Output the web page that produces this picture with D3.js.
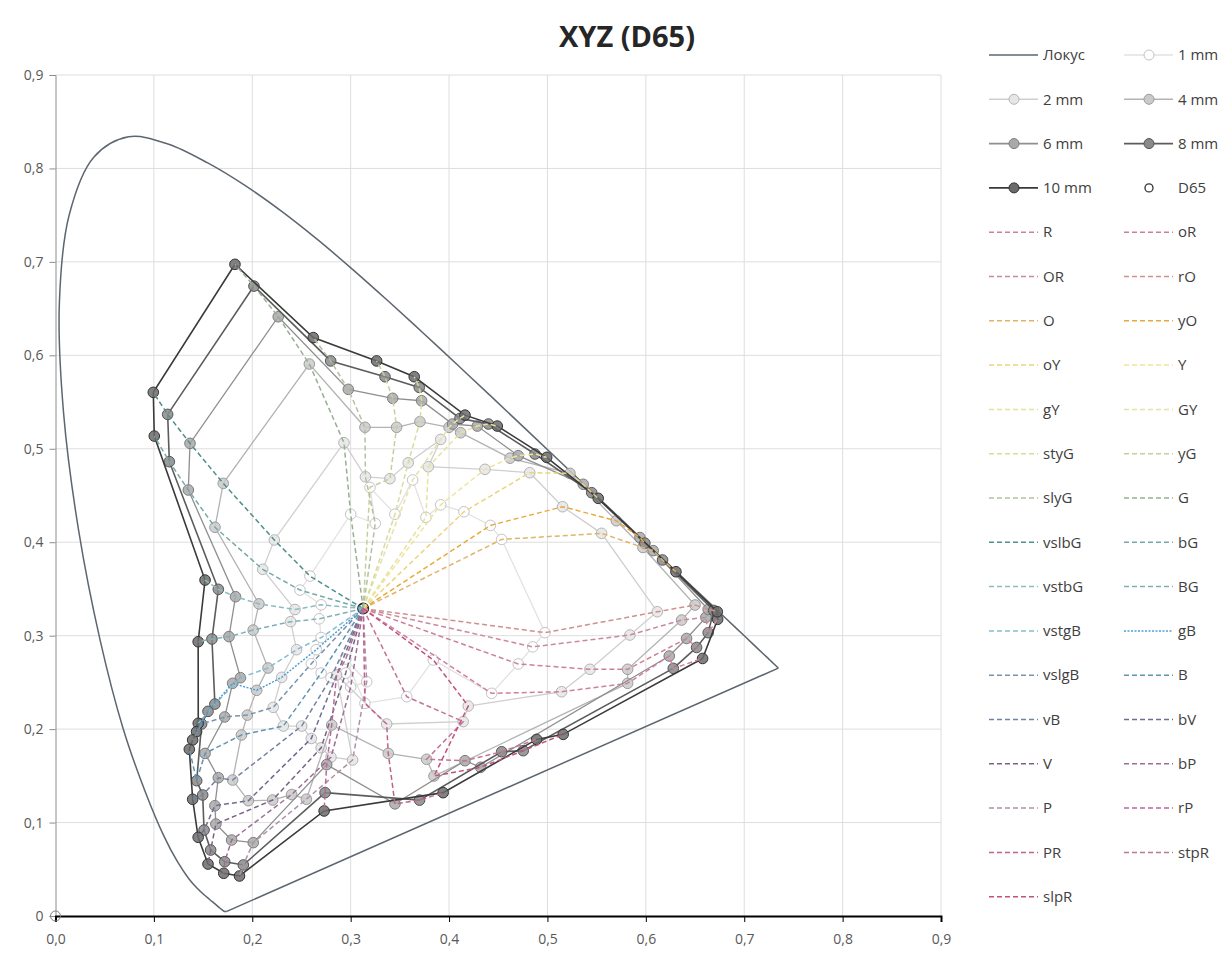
<!DOCTYPE html>
<html>
<head>
<meta charset="utf-8">
<script src="https://cdn.jsdelivr.net/npm/d3@7"></script>
<style>
body { margin: 0; background: #fff; }
text { font-family: "Open Sans", sans-serif; }
</style>
</head>
<body>
<svg id="chart" width="1225" height="953"></svg>
<script>
// spectral locus (CIE 1931, 380..700 nm, 5 nm step)
var locusX = [0.1741,0.1740,0.1738,0.1736,0.1733,0.1730,0.1726,0.1721,0.1714,0.1703,0.1689,0.1669,0.1644,0.1611,0.1566,0.1510,0.1440,0.1355,0.1241,0.1096,0.0913,0.0687,0.0454,0.0235,0.0082,0.0039,0.0139,0.0389,0.0743,0.1142,0.1547,0.1929,0.2296,0.2658,0.3016,0.3373,0.3731,0.4087,0.4441,0.4788,0.5125,0.5448,0.5752,0.6029,0.6270,0.6482,0.6658,0.6801,0.6915,0.7006,0.7079,0.7140,0.7190,0.7230,0.7260,0.7283,0.7300,0.7311,0.7320,0.7327,0.7334,0.7340,0.7344,0.7346,0.7347];
var locusY = [0.0050,0.0050,0.0049,0.0049,0.0048,0.0048,0.0048,0.0048,0.0051,0.0058,0.0069,0.0086,0.0109,0.0138,0.0177,0.0227,0.0297,0.0399,0.0578,0.0868,0.1327,0.2007,0.2950,0.4127,0.5384,0.6548,0.7502,0.8120,0.8338,0.8262,0.8059,0.7816,0.7543,0.7243,0.6923,0.6589,0.6245,0.5896,0.5547,0.5202,0.4866,0.4544,0.4242,0.3965,0.3725,0.3514,0.3340,0.3197,0.3083,0.2993,0.2920,0.2859,0.2809,0.2770,0.2740,0.2717,0.2700,0.2689,0.2680,0.2673,0.2666,0.2660,0.2656,0.2654,0.2653];

var whitePoints = [[0.3127, 0.3290], [0, 0]];

var hueNames = ["R","oR","OR","rO","O","yO","oY","Y","gY","GY","styG","yG","slyG","G",
  "vslbG","bG","vstbG","BG","vstgB","gB","vslgB","B","vB","bV","V","bP","P","rP","PR","stpR","slpR"];

var ring1mm = [[0.4433,0.2383],[0.4703,0.2697],[0.4850,0.2880],[0.4975,0.3032],[0.4535,0.4030],[0.4420,0.4180],
  [0.4151,0.4326],[0.3915,0.4400],[0.3765,0.4266],[0.3630,0.4666],[0.3450,0.4300],[0.3196,0.4587],[0.3250,0.4200],
  [0.3000,0.4300],[0.2586,0.3638],[0.2485,0.3488],[0.2700,0.3330],[0.2680,0.3180],[0.2700,0.2980],[0.2650,0.2850],
  [0.2600,0.2700],[0.2700,0.2600],[0.2800,0.2550],[0.2858,0.2579],[0.2950,0.2600],[0.3000,0.2450],[0.3163,0.2507],
  [0.2950,0.2750],[0.3145,0.2276],[0.3570,0.2347],[0.3840,0.2740]];
var ring2mm = [[0.5144,0.2400],[0.5432,0.2640],[0.5838,0.3007],[0.6116,0.3256],[0.5550,0.4095],[0.5154,0.4380],
  [0.4820,0.4744],[0.4365,0.4780],[0.3789,0.4808],[0.3915,0.5100],[0.3585,0.4850],[0.3399,0.4680],[0.3150,0.4700],
  [0.2932,0.5065],[0.2224,0.4024],[0.2106,0.3710],[0.2434,0.3280],[0.2390,0.3150],[0.2450,0.2850],[0.2299,0.2554],
  [0.2213,0.2233],[0.2316,0.2033],[0.2502,0.2033],[0.2600,0.1900],[0.2700,0.1800],[0.2800,0.1700],[0.3020,0.1670],
  [0.2857,0.2579],[0.3366,0.2055],[0.4144,0.2080],[0.4195,0.2247]];
var ring4mm = [[0.5815,0.2490],[0.5815,0.2640],[0.6364,0.3167],[0.6500,0.3328],[0.5970,0.3944],[0.5700,0.4230],
  [0.5229,0.4737],[0.4620,0.4900],[0.4118,0.5172],[0.4000,0.5230],[0.3704,0.5290],[0.3467,0.5230],[0.3145,0.5230],
  [0.2580,0.5907],[0.1705,0.4630],[0.1621,0.4160],[0.2068,0.3340],[0.2009,0.3060],[0.2160,0.2654],[0.2045,0.2415],
  [0.1950,0.2150],[0.1890,0.1937],[0.1800,0.1455],[0.1960,0.1234],[0.2207,0.1241],[0.2400,0.1300],[0.2550,0.1250],
  [0.2807,0.2044],[0.3382,0.1740],[0.3772,0.1677],[0.3847,0.1498]];
var ring6mm = [[0.6238,0.2782],[0.6414,0.2970],[0.6610,0.3196],[0.6634,0.3280],[0.6075,0.3910],[0.5940,0.4050],
  [0.5364,0.4620],[0.4703,0.4926],[0.4287,0.5243],[0.4036,0.5265],[0.3721,0.5514],[0.3427,0.5540],[0.2976,0.5636],
  [0.2264,0.6413],[0.1367,0.5058],[0.1350,0.4559],[0.1830,0.3417],[0.1763,0.2990],[0.1880,0.2550],[0.1800,0.2490],
  [0.1720,0.2130],[0.1520,0.1740],[0.1655,0.1480],[0.1620,0.1180],[0.1630,0.0984],[0.1790,0.0813],[0.2010,0.0785],
  [0.2756,0.1620],[0.3450,0.1200],[0.4162,0.1662],[0.4321,0.1591]];
var ring8mm = [[0.6279,0.2650],[0.6516,0.2874],[0.6634,0.3032],[0.6690,0.3270],[0.6170,0.3810],[0.5990,0.3990],
  [0.5450,0.4530],[0.4873,0.4944],[0.4400,0.5265],[0.4111,0.5325],[0.3697,0.5657],[0.3349,0.5771],[0.2797,0.5940],
  [0.2017,0.6741],[0.1140,0.5368],[0.1157,0.4862],[0.1655,0.3496],[0.1590,0.2964],[0.1620,0.2268],[0.1550,0.2190],
  [0.1485,0.2055],[0.1435,0.1448],[0.1496,0.1295],[0.1510,0.0920],[0.1577,0.0706],[0.1720,0.0581],[0.1909,0.0546],
  [0.2740,0.1320],[0.3700,0.1240],[0.4535,0.1758],[0.4754,0.1769]];
var ring10mm = [[0.6577,0.2756],null,[0.6730,0.3175],[0.6726,0.3256],[0.6306,0.3684],null,
  [0.5516,0.4470],[0.4992,0.4908],[0.4490,0.5243],[0.4162,0.5360],[0.3646,0.5771],[0.3264,0.5940],[0.2620,0.6190],
  [0.1824,0.6974],[0.0994,0.5604],[0.1004,0.5136],[0.1520,0.3595],[0.1450,0.2935],[0.1451,0.2062],[0.1434,0.1973],
  [0.1394,0.1884],[0.1360,0.1784],[0.1394,0.1249],[0.1450,0.0842],[0.1550,0.0556],[0.1710,0.0457],[0.1870,0.0428],
  [0.2730,0.1124],[0.3940,0.1320],[0.4890,0.1890],[0.5160,0.1944]];

var ringNames = ["1 mm","2 mm","4 mm","6 mm","8 mm","10 mm"];
var rings = [ring1mm, ring2mm, ring4mm, ring6mm, ring8mm, ring10mm];

// styles
var ringLine = ["#e2e2e2","#cfcfcf","#b3b3b3","#8f8f8f","#5c5c5c","#3a3a3a"];
var ringFill = ["#ffffff","#e6e6e6","#cacaca","#a9a9a9","#8a8a8a","#6b6b6b"];
var ringStroke = ["#c4c4c4","#b5b5b5","#9c9c9c","#7c7c7c","#555555","#333333"];
var hueColors = ["#cf7fa3","#cc8196","#c98a9c","#d0908c","#e3b36a","#e8a83c","#ecd37e","#eee59c","#e6e39a","#e5e2a8",
  "#d9dc9a","#c6cf9c","#b2c2a0","#97b093","#4f8f8c","#76a9aa","#8cbcbe","#7fb0b8","#86bdd0","#4f9fd4","#7894ad",
  "#5f94b3","#7583a2","#6d6e92","#7a6486","#9c6e93","#ad92a8","#b86a96","#c0628e","#c47498","#c2527e"];

var svg = d3.select("#chart");
var x = d3.scaleLinear().domain([0, 0.9]).range([55.5, 941]);
var y = d3.scaleLinear().domain([0, 0.9]).range([916, 75]);
var ticks = d3.range(0, 10).map(function(i) { return i / 10; });
var comma = function(d) { return d3.format(".1f")(d).replace(".", ","); };

// gridlines
svg.append("g").selectAll("line").data(ticks.slice(1)).enter().append("line")
    .attr("x1", x(0)).attr("x2", x(0.9))
    .attr("y1", function(d) { return y(d); }).attr("y2", function(d) { return y(d); })
    .style("stroke", "#dedede");
svg.append("g").selectAll("line").data(ticks.slice(1)).enter().append("line")
    .attr("y1", y(0)).attr("y2", y(0.9))
    .attr("x1", function(d) { return x(d); }).attr("x2", function(d) { return x(d); })
    .style("stroke", "#dedede");

// axes
var yAxis = svg.append("g").attr("transform", "translate(" + x(0) + ",0)")
    .call(d3.axisLeft(y).tickValues(ticks).tickSize(6).tickPadding(6)
      .tickFormat(function(d) { return d === 0 ? "0" : comma(d); }));
yAxis.select(".domain").style("stroke", "#8c8c8c");
yAxis.selectAll(".tick line").style("stroke", "#8c8c8c");
var xAxis = svg.append("g").attr("transform", "translate(0," + y(0) + ")")
    .call(d3.axisBottom(x).tickValues(ticks).tickSize(6).tickPadding(12).tickFormat(comma));
xAxis.select(".domain").style("stroke", "#000").style("stroke-width", 2);
xAxis.selectAll(".tick line").style("stroke", "#000");
svg.selectAll(".tick text").style("font-family", "Open Sans").style("font-size", "14px").style("fill", "#595959");

var line = d3.line()
    .defined(function(d) { return d; })
    .x(function(d) { return x(d[0]); })
    .y(function(d) { return y(d[1]); });
var smooth = d3.line()
    .curve(d3.curveCatmullRom.alpha(0.5))
    .x(function(d) { return x(d[0]); })
    .y(function(d) { return y(d[1]); });

// locus: smooth spectral curve, then the straight purple line
var locus = locusX.map(function(v, i) { return [v, locusY[i]]; });
svg.append("path").attr("d", smooth(locus))
    .style("fill", "none").style("stroke", "#5d6670").style("stroke-width", 1.5);
svg.append("path").attr("d", line([locus[locus.length - 1], locus[0]]))
    .style("fill", "none").style("stroke", "#5d6670").style("stroke-width", 1.5);

// rings
rings.forEach(function(r, k) {
  var pts = r.filter(function(d) { return d; });
  pts.push(pts[0]);
  svg.append("path").attr("d", line(pts))
      .style("fill", "none").style("stroke", ringLine[k]).style("stroke-width", k > 3 ? 1.6 : 1.3);
  svg.append("g").selectAll("circle").data(pts.slice(0, -1)).enter().append("circle")
      .attr("cx", function(d) { return x(d[0]); })
      .attr("cy", function(d) { return y(d[1]); })
      .attr("r", 5.3)
      .style("fill", ringFill[k]).style("fill-opacity", 0.85)
      .style("stroke", ringStroke[k]).style("stroke-width", 1);
});

// white point
svg.append("g").selectAll("circle").data(whitePoints).enter().append("circle")
    .attr("cx", function(d) { return x(d[0]); })
    .attr("cy", function(d) { return y(d[1]); })
    .attr("r", 5)
    .style("fill", "none").style("stroke", function(d, i) { return i ? "#7f7f7f" : "#222"; })
    .style("stroke-width", function(d, i) { return i ? 1 : 2; });

// hue lines from the white point out through every ring
hueNames.forEach(function(h, i) {
  var pts = [whitePoints[0]];
  rings.forEach(function(r) { if (r[i]) pts.push(r[i]); });
  svg.append("path").attr("d", line(pts))
      .style("fill", "none").style("stroke", hueColors[i]).style("stroke-width", 1.5)
      .style("stroke-dasharray", h === "gB" ? "2,1.5" : "5,3");
});

// title
svg.append("text").attr("x", 627).attr("y", 47).attr("text-anchor", "middle")
    .style("font-size", "29px").style("font-weight", "bold").style("fill", "#262626")
    .text("XYZ (D65)");

// legend
var legendItems = [{name: "Локус", type: "locus"}]
  .concat(ringNames.map(function(n, k) { return {name: n, type: "ring", k: k}; }))
  .concat([{name: "D65", type: "white"}])
  .concat(hueNames.map(function(n, i) { return {name: n, type: "hue", i: i}; }));

var legend = svg.append("g");
var item = legend.selectAll("g").data(legendItems).enter().append("g")
    .attr("transform", function(d, i) {
      return "translate(" + (i % 2 ? 1124 : 989) + "," + (55 + Math.floor(i / 2) * 44.3) + ")";
    });
item.filter(function(d) { return d.type !== "white"; }).append("line")
    .attr("x1", 0).attr("x2", 49)
    .style("stroke", function(d) {
      return d.type === "locus" ? "#5d6670" : d.type === "ring" ? ringLine[d.k] : hueColors[d.i];
    })
    .style("stroke-width", function(d) { return d.type === "hue" ? 1.5 : 1.6; })
    .style("stroke-dasharray", function(d) {
      return d.type !== "hue" ? null : d.name === "gB" ? "2,1.5" : "5,3";
    });
item.filter(function(d) { return d.type === "ring"; }).append("circle")
    .attr("cx", 25).attr("r", 5)
    .style("fill", function(d) { return ringFill[d.k]; })
    .style("stroke", function(d) { return ringStroke[d.k]; });
item.filter(function(d) { return d.type === "white"; }).append("circle")
    .attr("cx", 25).attr("r", 4)
    .style("fill", "none").style("stroke", "#333").style("stroke-width", 1.3);
item.append("text").attr("x", 54).attr("dy", "0.35em")
    .style("font-size", "15px").style("fill", "#404040")
    .text(function(d) { return d.name; });
</script>
</body>
</html>
